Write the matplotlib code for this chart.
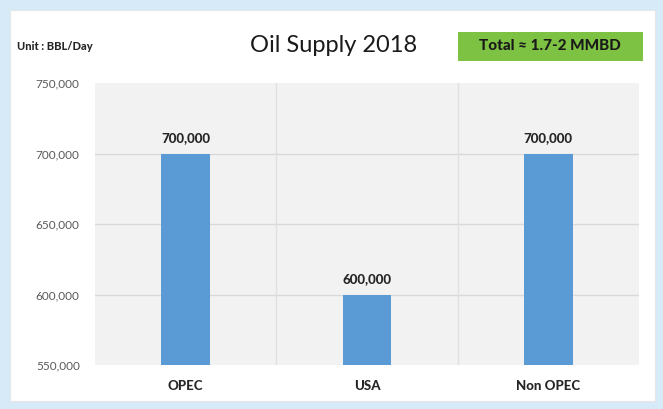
import matplotlib.pyplot as plt
from matplotlib.patches import Rectangle
from matplotlib.ticker import FuncFormatter

categories = ["OPEC", "USA", "Non OPEC"]
supply = [700000, 600000, 700000]
y_ticks = [550000, 600000, 650000, 700000, 750000]

plt.rcParams['font.family'] = ['Lato', 'DejaVu Sans']

fig = plt.figure(figsize=(6.63, 4.09), dpi=100)
fig.patch.set_facecolor('#d6eaf8')

# white card behind everything
card = Rectangle((10 / 663, 1 - 401 / 409), 645 / 663, 391 / 409,
                 transform=fig.transFigure, facecolor='white',
                 edgecolor='#e6e6e6', linewidth=0.8, zorder=-10)
fig.patches.append(card)

ax = fig.add_axes([95 / 663, 1 - 365 / 409, 544 / 663, 282 / 409])
ax.set_zorder(5)
ax.set_facecolor('#f2f2f2')

x = list(range(len(categories)))
bars = ax.bar(x, supply, width=0.27, color='#5b9bd5', zorder=3)

for xi, val in zip(x, supply):
    ax.text(xi, val + 7000, f"{val:,}", ha='center', va='bottom',
            fontsize=9.5, fontweight='black', color='#262626', zorder=4)

ax.set_ylim(y_ticks[0], y_ticks[-1])
ax.set_xlim(-0.5, len(categories) - 0.5)
ax.set_yticks(y_ticks)
ax.yaxis.set_major_formatter(FuncFormatter(lambda v, p: f"{int(v):,}"))
ax.set_xticks(x)
ax.set_xticklabels(categories, fontsize=9.5, fontweight='black', color='#262626')
ax.tick_params(axis='y', labelsize=8.5, labelcolor='#595959', length=0, pad=11)
ax.tick_params(axis='x', length=0, pad=11)

for t in y_ticks[1:-1]:
    ax.axhline(t, color='#d9d9d9', linewidth=1.0, zorder=1)
for b in x[:-1]:
    ax.axvline(b + 0.5, color='#e0e0e0', linewidth=1.0, zorder=1)

for s in ax.spines.values():
    s.set_visible(False)

fig.text(17 / 663, 1 - 47 / 409, "Unit : BBL/Day", fontsize=8,
         fontweight='black', color='#262626', va='center', ha='left')
fig.text(334 / 663, 1 - 46 / 409, "Oil Supply 2018", fontsize=17,
         color='#1a1a1a', va='center', ha='center')

green = Rectangle((458 / 663, 1 - 61 / 409), 185 / 663, 29 / 409,
                  transform=fig.transFigure, facecolor='#7dc242',
                  edgecolor='none', zorder=-5)
fig.patches.append(green)
fig.text(550 / 663, 1 - 46.5 / 409, "Total \u2248 1.7-2 MMBD", fontsize=11,
         fontweight='black', color='#1a1a1a', va='center', ha='center')

fig.savefig('out.png', dpi=100, facecolor=fig.get_facecolor())
